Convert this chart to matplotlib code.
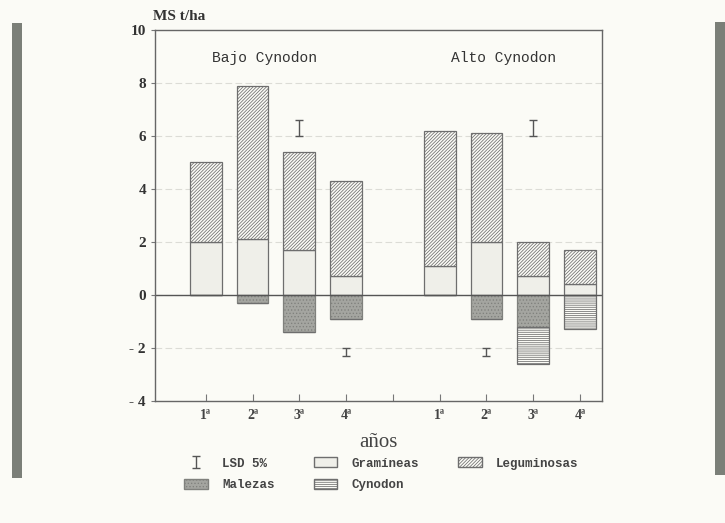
import numpy as np
import matplotlib
matplotlib.use('Agg')
import matplotlib.pyplot as plt
from matplotlib.patches import Patch, Rectangle

# data (t/ha of dry matter)
years = ['1ª', '2ª', '3ª', '4ª']
groups = ['Bajo Cynodon', 'Alto Cynodon']

gram_bajo = [2.0, 2.1, 1.7, 0.7]
leg_bajo = [3.0, 5.8, 3.7, 3.6]
mal_bajo = [0.0, -0.3, -1.4, -0.9]
cyn_bajo = [0.0, 0.0, 0.0, 0.0]

gram_alto = [1.1, 2.0, 0.7, 0.4]
leg_alto = [5.1, 4.1, 1.3, 1.3]
mal_alto = [0.0, -0.9, -1.2, 0.0]
cyn_alto = [0.0, 0.0, -1.4, -1.3]

# LSD 5% markers: group index, year index, centre, half length
lsd_group = [0, 0, 1, 1]
lsd_year = [2, 3, 2, 1]
lsd_center = [6.3, -2.15, 6.3, -2.15]
lsd_half = [0.3, 0.15, 0.3, 0.15]

bg = '#fbfbf6'
plt.rcParams['hatch.linewidth'] = 0.55
serif = 'Liberation Serif'
mono = 'Liberation Mono'

leg_hatch = '/' * 10
cyn_hatch = '-' * 8
mal_hatch = '.' * 5
edge = '#6e6e6e'
mal_face, mal_edge = '#a4a5a0', '#80817d'

fig = plt.figure(figsize=(7.25, 5.23), dpi=100, facecolor=bg)
ax = fig.add_axes([155/725, 1-401/523, 447/725, 371/523], facecolor=bg)

# scanner page edges
fig.patches.append(Rectangle((12/725, 1-478/523), 10/725, 455/523, transform=fig.transFigure,
                             facecolor='#7b7f78', edgecolor='none'))
fig.patches.append(Rectangle((715/725, 1-475/523), 10/725, 453/523, transform=fig.transFigure,
                             facecolor='#7b7f78', edgecolor='none'))

x_bajo = np.arange(1, 5)
x_alto = np.arange(6, 10)
w = 0.68

for x, gram, leg, mal, cyn in [(x_bajo, gram_bajo, leg_bajo, mal_bajo, cyn_bajo),
                               (x_alto, gram_alto, leg_alto, mal_alto, cyn_alto)]:
    gram = np.array(gram); leg = np.array(leg)
    mal = np.array(mal); cyn = np.array(cyn)
    ax.bar(x, gram, w, color='#efefe9', edgecolor=edge, linewidth=0.9)
    ax.bar(x, leg, w, bottom=gram, color=bg, edgecolor=edge, hatch=leg_hatch, linewidth=0.9)
    ax.bar(x, mal, w, color=mal_face, edgecolor=mal_edge, hatch=mal_hatch, linewidth=0.9)
    ax.bar(x, cyn, w, bottom=mal, color=bg, edgecolor=edge, hatch=cyn_hatch, linewidth=0.9)

all_x = [x_bajo, x_alto]
lx = [all_x[g][y] for g, y in zip(lsd_group, lsd_year)]
lsd = ax.errorbar(lx, lsd_center, yerr=lsd_half, fmt='none', ecolor='#555555',
                  elinewidth=1.0, capsize=3, capthick=1.0)

ax.axhline(0, color='#555555', linewidth=1.0)
ax.set_ylim(-4, 10)
ax.set_xlim(-0.085, 9.47)
ax.set_yticks(range(-4, 11, 2))
ax.set_yticklabels(['- 4', '- 2', '0', '2', '4', '6', '8', '10'],
                   fontfamily=serif, fontweight='bold', fontsize=11, color='#333333')
ax.set_xticks(list(x_bajo) + [5] + list(x_alto))
ax.set_xticklabels(years + [''] + years, fontfamily=serif, fontweight='bold',
                   fontsize=10, color='#444444')
ax.tick_params(axis='x', direction='in', length=5, color='#777777', pad=6)
ax.tick_params(axis='y', direction='out', length=3, color='#777777')
ax.yaxis.grid(True, linestyle=(0, (6, 3)), color='#dcdcd6', linewidth=0.8)
ax.set_axisbelow(True)
for s in ax.spines.values():
    s.set_color('#666666')
    s.set_linewidth(1.0)

ax.text(0.127, 0.925, groups[0], transform=ax.transAxes, fontfamily=mono,
        fontsize=10.5, color='#333333', va='center')
ax.text(0.662, 0.925, groups[1], transform=ax.transAxes, fontfamily=mono,
        fontsize=10.5, color='#333333', va='center')

fig.text(153/725, 1-16/523, 'MS t/ha', fontfamily=serif, fontweight='bold',
         fontsize=11, color='#333333', va='center')
ax.set_xlabel('años', fontfamily=serif, fontsize=15, color='#444444', labelpad=8)

handles = [lsd,
           Patch(facecolor=mal_face, edgecolor=mal_edge, hatch=mal_hatch),
           Patch(facecolor='#efefe9', edgecolor=edge),
           Patch(facecolor=bg, edgecolor=edge, hatch=cyn_hatch),
           Patch(facecolor=bg, edgecolor=edge, hatch=leg_hatch)]
labels = ['LSD 5%', 'Malezas', 'Gramíneas', 'Cynodon', 'Leguminosas']
fig.legend(handles, labels, loc='upper left', bbox_to_anchor=(173/725, 1-446/523),
           ncol=3, frameon=False, prop={'family': mono, 'weight': 'bold', 'size': 9},
           labelcolor='#444444', handlelength=1.9, handleheight=0.85,
           columnspacing=3.1, labelspacing=0.75, handletextpad=1.15)

fig.savefig('out.png', dpi=100, facecolor=bg)
